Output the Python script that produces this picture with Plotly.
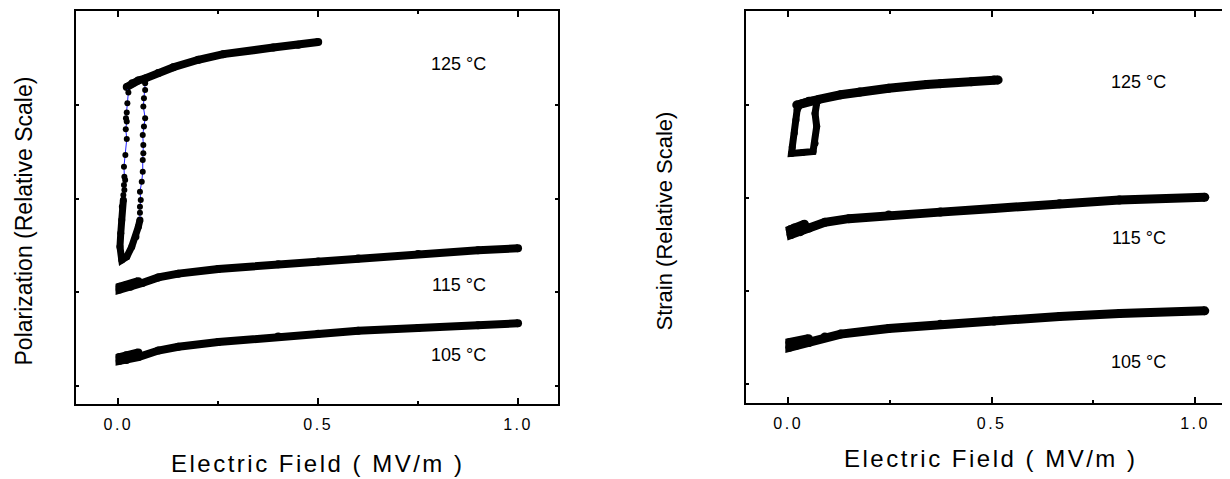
import plotly.graph_objects as go

# ---------------- Left panel: Polarization ----------------
P105_x = [0.05, 0.02, 0.003, 0.003, 0.02, 0.05, 0.10, 0.15, 0.25, 0.40, 0.50, 0.60, 0.75, 0.90, 1.00]
P105_y = [0.36, 0.33, 0.31, 0.27, 0.28, 0.31, 0.38, 0.42, 0.47, 0.53, 0.56, 0.59, 0.62, 0.65, 0.67]

P115_x = [0.05, 0.02, 0.003, 0.003, 0.03, 0.06, 0.10, 0.15, 0.25, 0.40, 0.50, 0.60, 0.75, 0.90, 1.00]
P115_y = [1.12, 1.08, 1.06, 1.03, 1.06, 1.10, 1.16, 1.20, 1.25, 1.30, 1.33, 1.36, 1.41, 1.45, 1.47]

# 125 C hysteresis loop: dense lower part
P125_low_x = [0.0125, 0.010, 0.0085, 0.006, 0.004, 0.0085, 0.021, 0.0335, 0.044, 0.050, 0.054]
P125_low_y = [1.985, 1.914, 1.772, 1.630, 1.487, 1.345, 1.380, 1.487, 1.593, 1.700, 1.772]
# sparse rising branch (higher field)
P125_up_x = [0.054, 0.054, 0.054, 0.056, 0.054, 0.0585, 0.061, 0.061, 0.0625, 0.0625, 0.061, 0.064, 0.067, 0.0625, 0.064, 0.067, 0.067]
P125_up_y = [1.772, 1.850, 1.914, 1.985, 2.074, 2.180, 2.287, 2.412, 2.483, 2.572, 2.679, 2.768, 2.857, 2.981, 3.070, 3.159, 3.231]
# sparse falling branch (lower field)
P125_dn_x = [0.021, 0.025, 0.0225, 0.021, 0.019, 0.021, 0.0185, 0.021, 0.0175, 0.014, 0.015, 0.017, 0.014, 0.015, 0.0125, 0.0125]
P125_dn_y = [3.194, 3.130, 3.017, 2.917, 2.857, 2.821, 2.740, 2.636, 2.465, 2.340, 2.234, 2.199, 2.145, 2.092, 2.038, 1.985]
# saturated top part
P125_top_x = [0.021, 0.035, 0.050, 0.067, 0.100, 0.1375, 0.20, 0.2625, 0.3875, 0.45, 0.50]
P125_top_y = [3.19, 3.23, 3.26, 3.28, 3.34, 3.40, 3.48, 3.54, 3.61, 3.64, 3.67]

# ---------------- Right panel: Strain ----------------
S105_x = [0.05, 0.02, 0.004, 0.004, 0.02, 0.051, 0.09, 0.129, 0.247, 0.374, 0.506, 0.667, 0.814, 1.024]
S105_y = [0.49, 0.46, 0.45, 0.40, 0.42, 0.45, 0.51, 0.54, 0.60, 0.645, 0.68, 0.73, 0.76, 0.79]

S115_x = [0.04, 0.015, 0.005, 0.007, 0.03, 0.051, 0.09, 0.149, 0.247, 0.374, 0.506, 0.667, 0.814, 1.024]
S115_y = [1.72, 1.68, 1.66, 1.61, 1.64, 1.68, 1.74, 1.78, 1.82, 1.85, 1.89, 1.94, 1.98, 2.01]

S125_loop_x = [0.070, 0.066, 0.070, 0.066, 0.061, 0.035, 0.008, 0.010, 0.015, 0.019, 0.022, 0.031, 0.051, 0.075]
S125_loop_y = [3.02, 2.91, 2.77, 2.59, 2.50, 2.49, 2.48, 2.55, 2.70, 2.84, 2.95, 3.02, 3.05, 3.06]
S125_top_x = [0.021, 0.051, 0.075, 0.129, 0.176, 0.247, 0.34, 0.374, 0.45, 0.506, 0.516]
S125_top_y = [3.00, 3.04, 3.06, 3.11, 3.14, 3.18, 3.22, 3.23, 3.25, 3.27, 3.27]

temp_labels = ["125 °C", "115 °C", "105 °C"]
xtick_vals = [0.0, 0.5, 1.0]
xtick_text = ["0.0", "0.5", "1.0"]
ytick_vals = [0, 1, 2, 3, 4]

FONT = "Arial, Liberation Sans, sans-serif"
BLACK = "#000000"

# The page body has an 8px margin; work in screen pixels and convert.
OFF = 8
W, H = 1230 - OFF, 479 - OFF


def fx(px):
    return (px - OFF) / W


def fy(py):
    return 1 - (py - OFF) / H


fig = go.Figure()


def thick(x, y, xa, ya, w=8):
    fig.add_trace(go.Scatter(x=x, y=y, xaxis=xa, yaxis=ya, mode="lines+markers",
                             line=dict(color=BLACK, width=w),
                             marker=dict(color=BLACK, size=w),
                             showlegend=False, hoverinfo="skip"))


def sparse(x, y, xa, ya):
    fig.add_trace(go.Scatter(x=x, y=y, xaxis=xa, yaxis=ya, mode="lines+markers",
                             line=dict(color="#1f1fff", width=1),
                             marker=dict(color=BLACK, size=6),
                             showlegend=False, hoverinfo="skip"))


thick(P105_x, P105_y, "x", "y")
thick(P115_x, P115_y, "x", "y")
thick(P125_low_x, P125_low_y, "x", "y", w=7)
thick(P125_top_x, P125_top_y, "x", "y")
sparse(P125_up_x, P125_up_y, "x", "y")
sparse(P125_dn_x, P125_dn_y, "x", "y")

thick(S105_x, S105_y, "x2", "y2", w=9)
thick(S115_x, S115_y, "x2", "y2", w=9)
thick(S125_loop_x, S125_loop_y, "x2", "y2", w=7)
thick(S125_top_x, S125_top_y, "x2", "y2", w=9)

tick_text_spaced = ['<span style="letter-spacing:2.5px">%s</span>' % t for t in xtick_text]


def xaxis(domain, rng):
    return dict(domain=domain, range=rng, showline=True, linecolor=BLACK, linewidth=2,
                mirror="allticks", ticks="inside", ticklen=6, tickwidth=1.5, tickcolor=BLACK,
                tickvals=xtick_vals, ticktext=tick_text_spaced,
                tickfont=dict(family=FONT, size=16, color=BLACK),
                minor=dict(tickvals=[0.25, 0.75], ticks="inside", ticklen=3, tickwidth=1.5, tickcolor=BLACK),
                showgrid=False, zeroline=False, ticklabelstandoff=5)


def yaxis(domain, rng, anchor):
    return dict(domain=domain, range=rng, anchor=anchor, showline=True, linecolor=BLACK, linewidth=2,
                mirror="allticks", ticks="inside", ticklen=3, tickwidth=1.5, tickcolor=BLACK,
                tickvals=ytick_vals, showticklabels=False,
                showgrid=False, zeroline=False)


fig.update_layout(
    width=W, height=H, margin=dict(l=0, r=0, t=0, b=0),
    paper_bgcolor="white", plot_bgcolor="white",
    xaxis=dict(**xaxis([fx(76), fx(558)], [-0.106, 1.10]), anchor="y"),
    yaxis=yaxis([fy(404), fy(11)], [-0.19, 4.0], "x"),
    xaxis2=dict(**xaxis([fx(745.5), fx(1224.7)], [-0.105, 1.073]), anchor="y2"),
    yaxis2=yaxis([fy(403), fy(11)], [-0.2, 4.01], "x2"),
)

ann = []
# temperature labels
for txt, yv in zip(temp_labels, [3.44, 1.08, 0.33]):
    ann.append(dict(x=0.852, y=yv, xref="x", yref="y", text=txt, showarrow=False,
                    font=dict(family=FONT, size=18, color=BLACK), xanchor="center", yanchor="middle"))
for txt, yv in zip(temp_labels, [3.25, 1.57, 0.24]):
    ann.append(dict(x=0.862, y=yv, xref="x2", yref="y2", text=txt, showarrow=False,
                    font=dict(family=FONT, size=18, color=BLACK), xanchor="center", yanchor="middle"))

xtitle = '<span style="letter-spacing:2.5px">Electric Field ( MV/m )</span>'
ann.append(dict(x=fx(318), y=fy(463), xref="paper", yref="paper", text=xtitle, borderpad=0,
                showarrow=False, font=dict(family=FONT, size=24, color=BLACK), xanchor="center", yanchor="middle"))
ann.append(dict(x=fx(991), y=fy(458), xref="paper", yref="paper", text=xtitle, borderpad=0,
                showarrow=False, font=dict(family=FONT, size=24, color=BLACK), xanchor="center", yanchor="middle"))
ann.append(dict(x=fx(23), y=fy(221.5), xref="paper", yref="paper", text="Polarization (Relative Scale)",
                showarrow=False, textangle=-90, font=dict(family=FONT, size=23, color=BLACK),
                xanchor="center", yanchor="middle"))
ann.append(dict(x=fx(664), y=fy(221.5), xref="paper", yref="paper", text="Strain (Relative Scale)",
                showarrow=False, textangle=-90, font=dict(family=FONT, size=22, color=BLACK),
                xanchor="center", yanchor="middle"))
fig.update_layout(annotations=ann)

fig.write_html("out.html")
